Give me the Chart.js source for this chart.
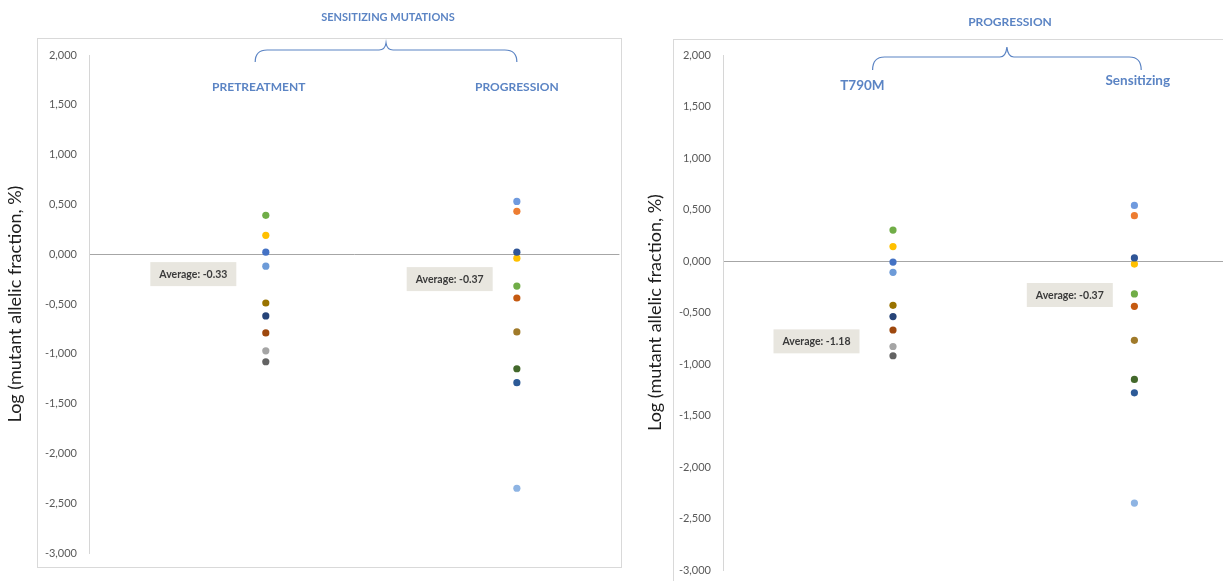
<!DOCTYPE html>
<html>
<head>
<meta charset="utf-8">
<script src="https://cdn.jsdelivr.net/npm/chart.js@4.4.1/dist/chart.umd.min.js"></script>
<style>
    html, body { margin: 0; padding: 0; background: #fff; width: 1223px; height: 581px; overflow: hidden; }
    #graficoIzq { position: absolute; left: 0; top: 0; }
    #graficoDer { position: absolute; left: 640px; top: 0; }
</style>
</head>
<body>
<canvas id="graficoIzq" width="623" height="581"></canvas>
<canvas id="graficoDer" width="600" height="600"></canvas>
<script>
// Grupos y posicion de cada columna en el eje x
const gruposIzq = ['PRETREATMENT', 'PROGRESSION'];
const gruposDer = ['T790M', 'Sensitizing'];
const posicionGrupo = [1, 2.42];

// Log (fraccion alelica mutante, %) por paciente
const pretratamiento = [0.39, 0.19, 0.02, -0.12, -0.49, -0.62, -0.79, -0.97, -1.08];
const progresion = [0.53, 0.43, -0.04, 0.02, -0.32, -0.44, -0.78, -1.15, -1.29, -2.35];
const t790m = [0.30, 0.14, -0.01, -0.11, -0.43, -0.54, -0.67, -0.83, -0.92];
const sensibilizante = [0.54, 0.44, -0.03, 0.03, -0.32, -0.44, -0.77, -1.15, -1.28, -2.35];

const promediosIzq = [-0.33, -0.37];
const promediosDer = [-1.18, -0.37];

const marcasY = [-3, -2.5, -2, -1.5, -1, -0.5, 0, 0.5, 1, 1.5, 2];

const coloresNueve = ['#70ad47', '#ffc000', '#4472c4', '#6d9bd8', '#997300', '#264478', '#9e480e', '#a5a5a5', '#636363'];
const coloresDiez = ['#6f9ade', '#ed7d31', '#ffc000', '#2f5597', '#70ad47', '#c55a11', '#a07a2a', '#43682b', '#2c5a97', '#8eb4e3'];

const AZUL = '#5b84c4';
const FUENTE = 'Lato, "Open Sans", sans-serif';

function serie(valores, i, colores) {
    return {
        data: valores.map(v => ({ x: posicionGrupo[i], y: v })),
        pointBackgroundColor: colores,
        pointBorderWidth: 0,
        pointRadius: 3.6,
        pointHoverRadius: 3.6,
        showLine: false
    };
}

// Marco, titulo, llave, etiquetas de grupo y cajas de promedio
const decoraciones = {
    id: 'decoraciones',
    beforeDraw(chart, args, o) {
        const ctx = chart.ctx;
        ctx.save();
        ctx.strokeStyle = '#d9d9d9';
        ctx.lineWidth = 1;
        ctx.strokeRect(o.marco[0] + 0.5, o.marco[1] + 0.5, o.marco[2], o.marco[3]);
        ctx.restore();
    },
    afterDraw(chart, args, o) {
        const { ctx, scales: { x, y } } = chart;
        ctx.save();
        ctx.textAlign = 'center';
        ctx.textBaseline = 'middle';

        ctx.fillStyle = AZUL;
        ctx.font = 'bold ' + o.tamTitulo + 'px ' + FUENTE;
        ctx.fillText(o.titulo, o.tituloPos[0], o.tituloPos[1]);

        // llave
        const x0 = x.getPixelForValue(o.llave[0]);
        const x1 = x.getPixelForValue(o.llave[1]);
        const xm = (x0 + x1) / 2;
        const [yFin, yLinea, yPunta] = o.llaveY;
        ctx.strokeStyle = AZUL;
        ctx.lineWidth = 1.2;
        ctx.beginPath();
        ctx.moveTo(x0, yFin);
        ctx.quadraticCurveTo(x0, yLinea, x0 + 12, yLinea);
        ctx.lineTo(xm - 7, yLinea);
        ctx.quadraticCurveTo(xm - 1, yLinea, xm, yPunta);
        ctx.quadraticCurveTo(xm + 1, yLinea, xm + 7, yLinea);
        ctx.lineTo(x1 - 12, yLinea);
        ctx.quadraticCurveTo(x1, yLinea, x1, yFin);
        ctx.stroke();

        ctx.font = 'bold ' + o.tamGrupo + 'px ' + FUENTE;
        o.grupos.forEach((g, i) => {
            ctx.fillText(g, x.getPixelForValue(o.etiquetas[i][0]), y.getPixelForValue(o.etiquetas[i][1]));
        });

        o.promedios.forEach((p, i) => {
            const cx = x.getPixelForValue(o.cajas[i][0]);
            const cy = y.getPixelForValue(o.cajas[i][1]);
            ctx.fillStyle = '#e8e6df';
            ctx.fillRect(cx - 43, cy - 12, 86, 24);
            ctx.fillStyle = '#3a3a3a';
            ctx.font = 'bold 10.5px ' + FUENTE;
            ctx.fillText('Average: ' + p.toFixed(2), cx, cy + 0.5);
        });
        ctx.restore();
    }
};

function opciones(anchoEje, padding, deco) {
    return {
        responsive: false,
        animation: false,
        layout: { padding: padding },
        plugins: {
            legend: { display: false },
            tooltip: { enabled: false },
            decoraciones: deco
        },
        scales: {
            x: { type: 'linear', min: 0, max: 3, display: false },
            y: {
                min: -3,
                max: 2,
                afterBuildTicks: s => { s.ticks = marcasY.map(v => ({ value: v })); },
                afterFit: s => { s.width = anchoEje; },
                ticks: {
                    color: '#595959',
                    font: { size: 11, family: FUENTE },
                    padding: 12,
                    callback: v => v.toFixed(3).replace('.', ',')
                },
                grid: {
                    drawTicks: false,
                    color: c => (c.tick && c.tick.value === 0) ? '#a6a6a6' : 'rgba(0,0,0,0)'
                },
                border: { display: true, color: '#d6d6d6' },
                title: {
                    display: true,
                    text: 'Log (mutant allelic fraction, %)',
                    color: '#1e1e1e',
                    font: { size: 18, family: FUENTE },
                    padding: { top: 4, bottom: 0 }
                }
            }
        }
    };
}

new Chart(document.getElementById('graficoIzq'), {
    type: 'scatter',
    data: {
        datasets: [
            serie(pretratamiento, 0, coloresNueve),
            serie(progresion, 1, coloresDiez)
        ]
    },
    options: opciones(89, { left: 0, top: 55, right: 3, bottom: 28 }, {
        marco: [37, 38, 584, 529],
        titulo: 'SENSITIZING MUTATIONS',
        tamTitulo: 11,
        tituloPos: [388, 17],
        llave: [0.94, 2.42],
        llaveY: [62, 50, 43],
        grupos: gruposIzq,
        tamGrupo: 12,
        etiquetas: [[0.96, 1.68], [2.42, 1.68]],
        promedios: promediosIzq,
        cajas: [[0.59, -0.20], [2.04, -0.25]]
    }),
    plugins: [decoraciones]
});

new Chart(document.getElementById('graficoDer'), {
    type: 'scatter',
    data: {
        datasets: [
            serie(t790m, 0, coloresNueve),
            serie(sensibilizante, 1, coloresDiez)
        ]
    },
    options: opciones(83, { left: 0, top: 55, right: 7, bottom: 30 }, {
        marco: [33, 39, 600, 600],
        titulo: 'PROGRESSION',
        tamTitulo: 12,
        tituloPos: [370, 22],
        llave: [0.88, 2.46],
        llaveY: [70, 57, 47],
        grupos: gruposDer,
        tamGrupo: 13.5,
        etiquetas: [[0.82, 1.70], [2.44, 1.75]],
        promedios: promediosDer,
        cajas: [[0.55, -0.78], [2.04, -0.33]]
    }),
    plugins: [decoraciones]
});
</script>
</body>
</html>
